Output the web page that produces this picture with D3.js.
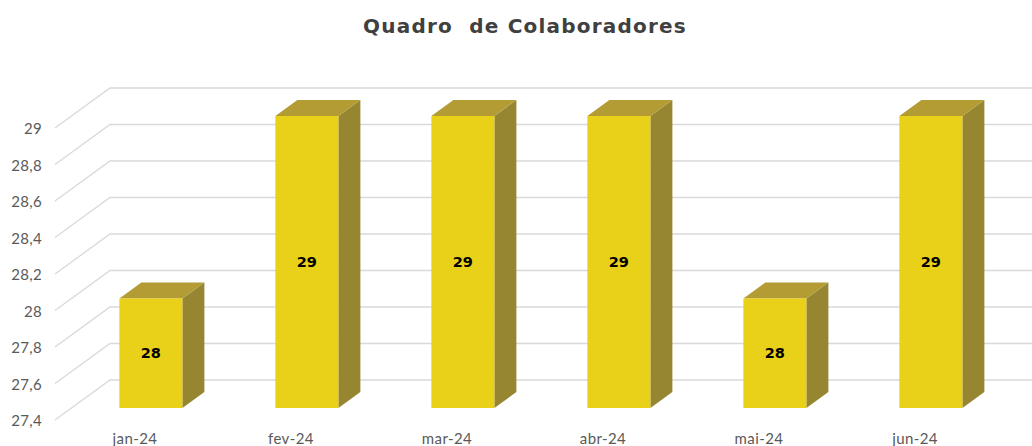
<!DOCTYPE html>
<html>
<head>
<meta charset="utf-8">
<script src="https://cdn.jsdelivr.net/npm/d3@7"></script>
<style>
  body { margin: 0; background: #fff; }
  svg { display: block; font-family: Lato, "Open Sans", sans-serif; }
</style>
</head>
<body>
<svg id="chart"></svg>
<script>
const categories = ['jan-24', 'fev-24', 'mar-24', 'abr-24', 'mai-24', 'jun-24']
const values = [28, 29, 29, 29, 28, 29]
const yTicks = [27.4, 27.6, 27.8, 28, 28.2, 28.4, 28.6, 28.8, 29]
const title = 'Quadro  de Colaboradores'

let opts = {
    width: 1032,
    height: 446,
    depthX: 55,       // full floor depth, horizontal
    depthY: 40,       // full floor depth, vertical
    barFront: 0.325,  // bar front position inside depth
    barBack: 0.725,
    barWidth: 63,
}

let svg = d3.select('#chart')
    .attr('width', opts.width)
    .attr('height', opts.height)

let x = d3.scaleBand().domain(categories).range([55, 991])
let y = d3.scaleLinear().domain([27.4, 29]).range([420, 128])

let locale = d3.formatLocale({ decimal: ',', thousands: '.', grouping: [3], currency: ['R$', ''] })
let fmt = v => locale.format('~g')(v)

// gridlines: diagonal on the side wall + horizontal on the back wall
let grid = svg.append('g')
grid.selectAll('path').data(yTicks).enter().append('path')
    .attr('d', d => {
        let y0 = y(d)
        let x0 = x.range()[0]
        return 'M' + x0 + ',' + y0 +
            'L' + (x0 + opts.depthX) + ',' + (y0 - opts.depthY) +
            'L' + (x.range()[1] + opts.depthX) + ',' + (y0 - opts.depthY)
    })
    .attr('fill', 'none')
    .attr('stroke', '#d9d9d9')
    .attr('stroke-width', 1.3)

// y labels
svg.append('g').selectAll('text').data(yTicks).enter().append('text')
    .attr('x', 42)
    .attr('y', d => y(d) + 1)
    .attr('dy', '0.35em')
    .attr('text-anchor', 'end')
    .attr('fill', '#595959')
    .attr('font-size', 15)
    .attr('letter-spacing', 0.3)
    .text(d => fmt(d))

// x labels
svg.append('g').selectAll('text').data(categories).enter().append('text')
    .attr('x', d => x(d) + x.bandwidth() / 2 + 2)
    .attr('y', 444)
    .attr('text-anchor', 'middle')
    .attr('fill', '#595959')
    .attr('font-size', 15)
    .attr('letter-spacing', 0.4)
    .text(d => d)

// bars
let fdx = opts.depthX * opts.barFront, fdy = opts.depthY * opts.barFront
let bdx = opts.depthX * opts.barBack, bdy = opts.depthY * opts.barBack
let sdx = bdx - fdx, sdy = bdy - fdy

let bars = svg.append('g').selectAll('g').data(values).enter().append('g')
    .attr('transform', (d, i) => {
        let cx = x(categories[i]) + x.bandwidth() / 2 + fdx - opts.barWidth / 2
        return 'translate(' + cx + ',' + (-fdy + 1) + ')'
    })

bars.append('path') // side
    .attr('d', d => {
        let w = opts.barWidth, t = y(d), b = y(27.4)
        return 'M' + w + ',' + t + 'L' + (w + sdx) + ',' + (t - sdy) +
            'L' + (w + sdx) + ',' + (b - sdy) + 'L' + w + ',' + b + 'Z'
    })
    .attr('fill', '#968632')

bars.append('path') // top
    .attr('d', d => {
        let w = opts.barWidth, t = y(d)
        return 'M0,' + t + 'L' + sdx + ',' + (t - sdy) +
            'L' + (w + sdx) + ',' + (t - sdy) + 'L' + w + ',' + t + 'Z'
    })
    .attr('fill', '#b29c33')

bars.append('rect') // front
    .attr('x', 0)
    .attr('y', d => y(d))
    .attr('width', opts.barWidth)
    .attr('height', d => y(27.4) - y(d))
    .attr('fill', '#e9d019')

bars.append('text')
    .attr('x', opts.barWidth / 2)
    .attr('y', d => (y(d) + y(27.4)) / 2)
    .attr('dy', '0.35em')
    .attr('text-anchor', 'middle')
    .attr('font-family', '"DejaVu Sans", sans-serif')
    .attr('font-weight', 'bold')
    .attr('font-size', 14.5)
    .attr('fill', '#000')
    .text(d => d)

svg.append('text')
    .attr('x', 525)
    .attr('y', 33)
    .attr('text-anchor', 'middle')
    .attr('font-family', '"DejaVu Sans", sans-serif')
    .attr('font-size', 20)
    .attr('font-weight', 'bold')
    .attr('letter-spacing', 1.2)
    .attr('fill', '#404040')
    .attr('xml:space', 'preserve')
    .style('white-space', 'pre')
    .text(title)
</script>
</body>
</html>
